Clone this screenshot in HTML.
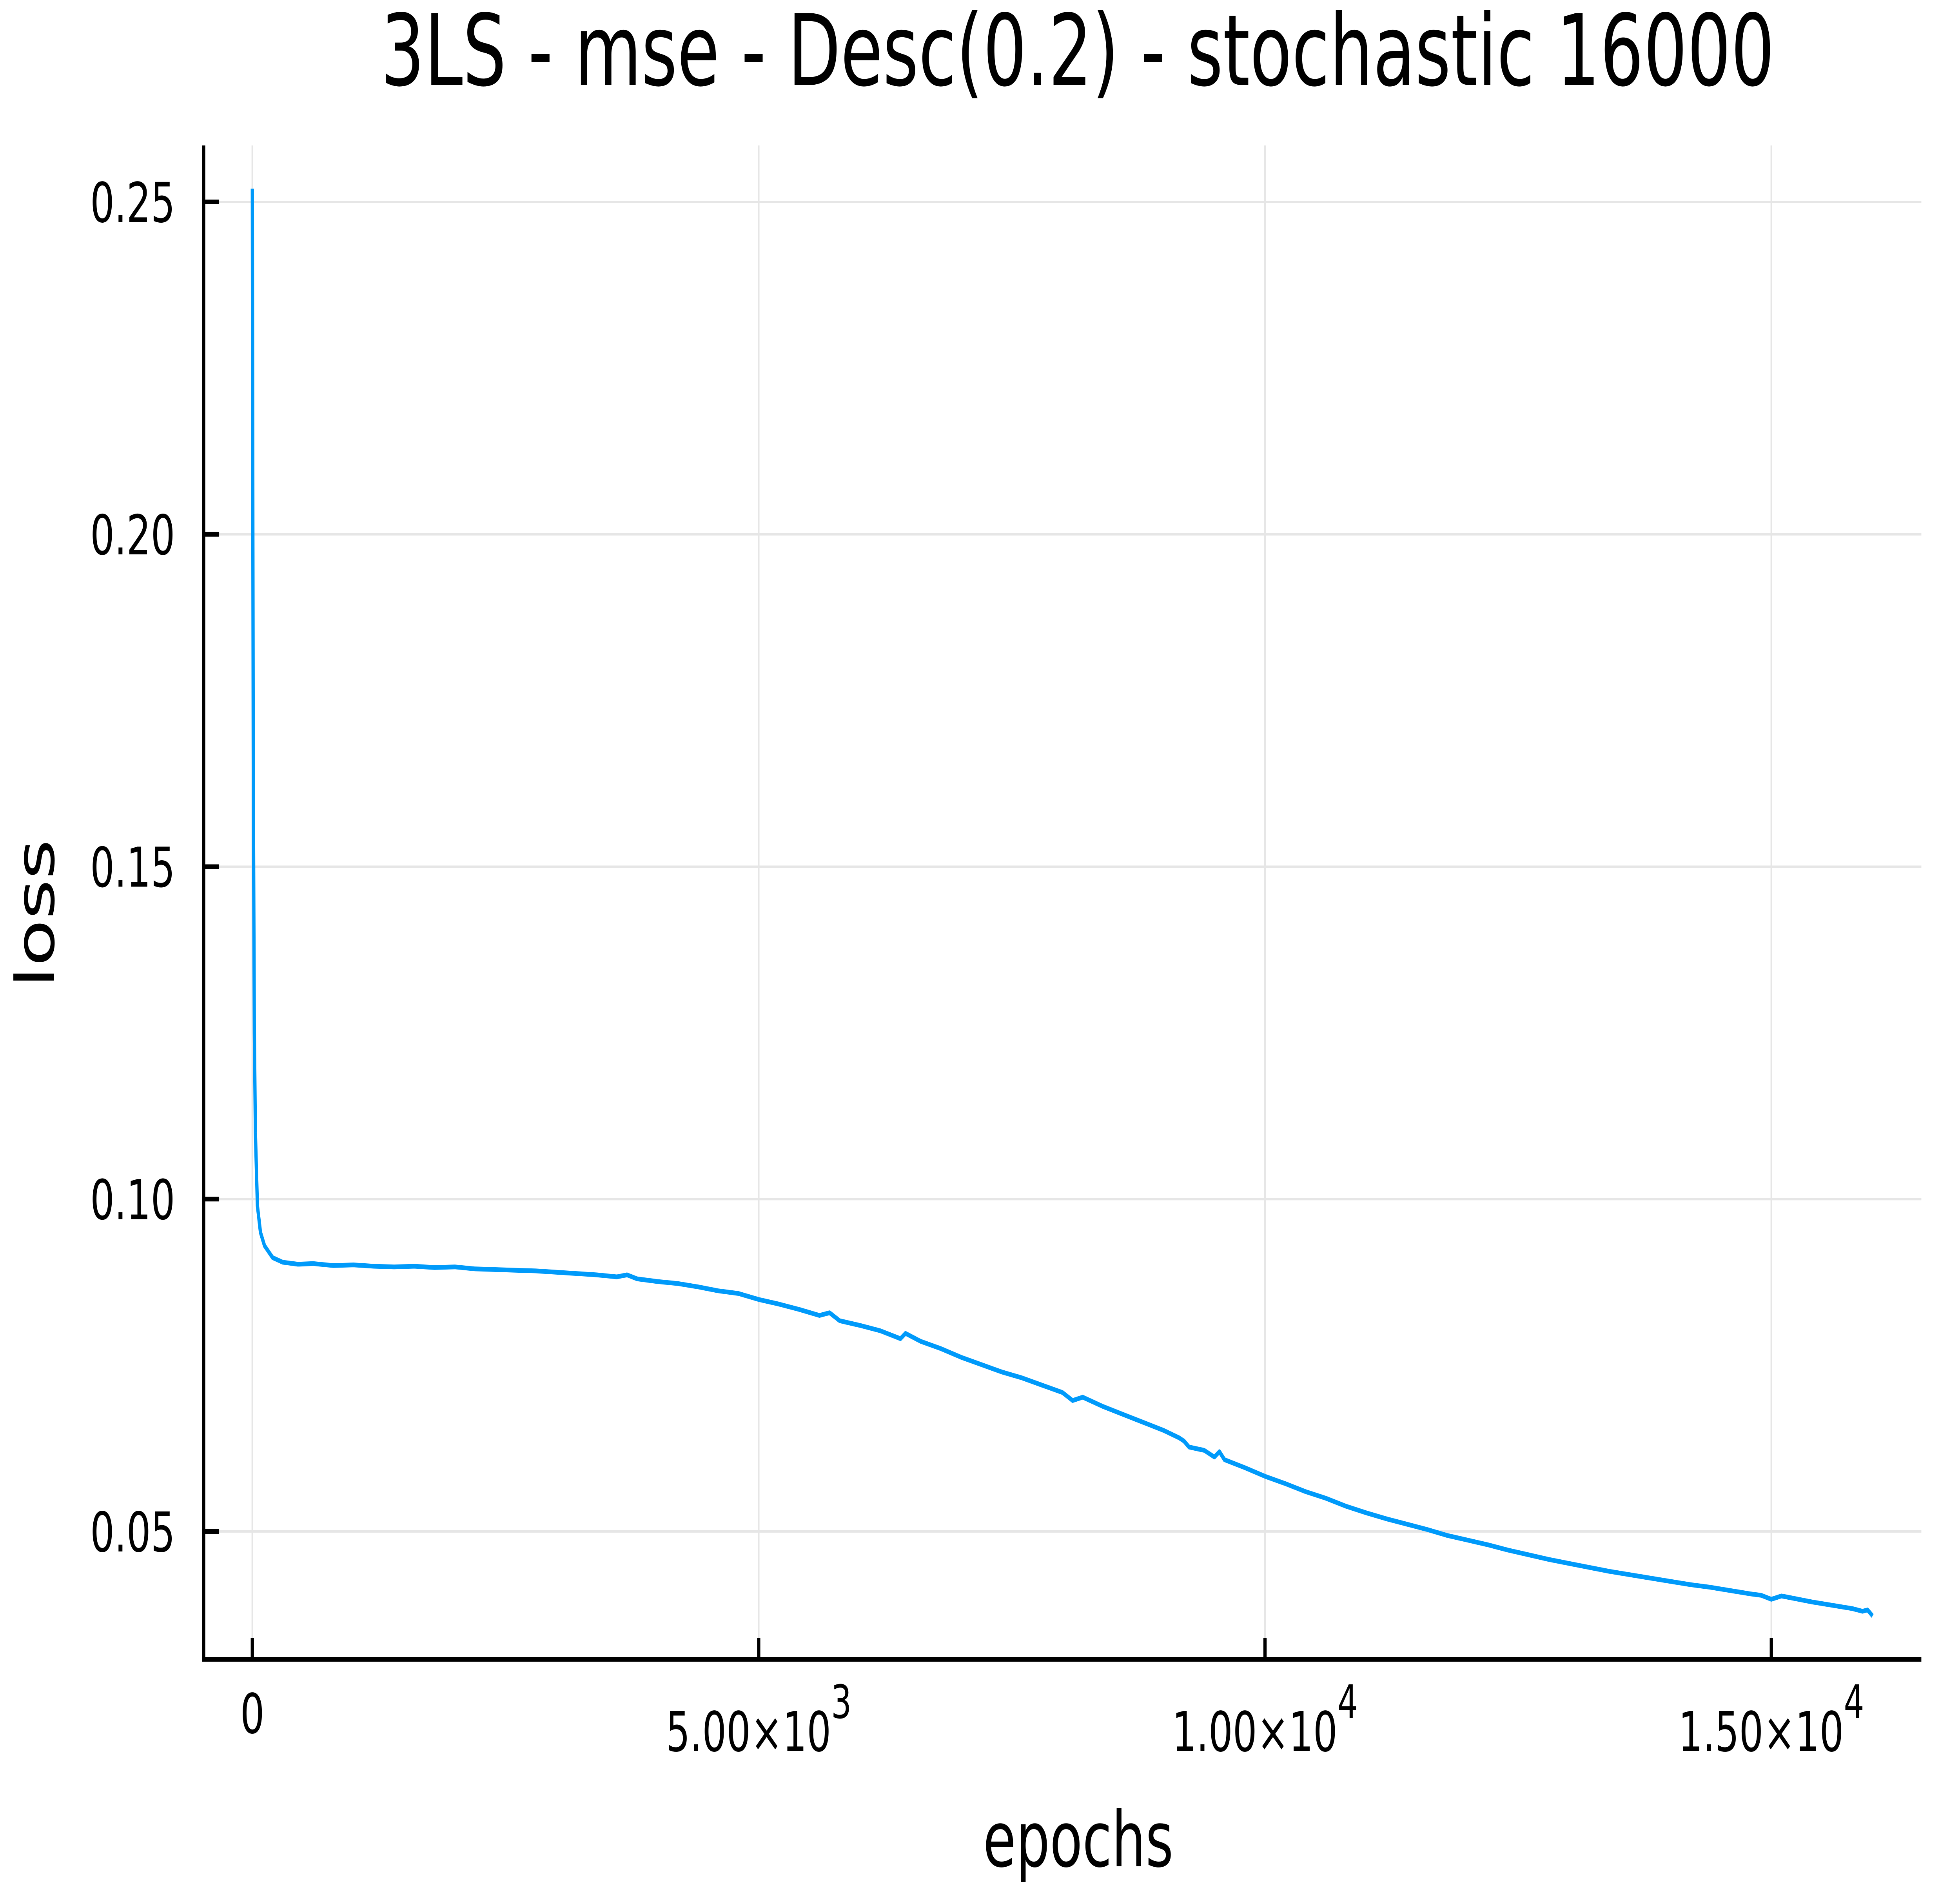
<!DOCTYPE html>
<html><head><meta charset="utf-8"><style>
html,body{margin:0;padding:0;background:#fff;overflow:hidden;}
svg{display:block;position:absolute;left:0;top:0;width:100vw;height:100vh;}
text{font-family:"DejaVu Sans","Liberation Sans",sans-serif;fill:#000;}
</style></head>
<body>
<svg id="chart" viewBox="0 0 7200 4800" preserveAspectRatio="none" xmlns="http://www.w3.org/2000/svg" overflow="hidden">
<rect x="0" y="0" width="7200" height="4800" fill="#fff"/>
<g id="grid"></g>
<g id="series"></g>
<g id="axes"></g>
<text x="3959" y="217" font-size="252" text-anchor="middle">3LS - mse - Desc(0.2) - stochastic 16000</text>
<text x="3961" y="4760" font-size="196" text-anchor="middle">epochs</text>
<text x="0" y="0" font-size="196" text-anchor="middle" transform="translate(198,2330) rotate(-90)">loss</text>
</svg>
<script>
const xTickValues = [0, 5000, 10000, 15000];
const xTickMantissa = ["0", "5.00×10", "1.00×10", "1.50×10"];
const xTickExponent = ["", "3", "4", "4"];
const yTickValues = [0.05, 0.10, 0.15, 0.20, 0.25];
const yTickLabels = ["0.05", "0.10", "0.15", "0.20", "0.25"];
const epochs = [0,5,10,20,30,50,80,120,200,300,450,600,800,1000,1200,1400,1600,1800,2000,2200,2400,2600,2800,3000,3200,3400,3600,3700,3800,4000,4200,4400,4600,4800,5000,5200,5400,5600,5700,5800,6000,6200,6400,6450,6600,6800,7000,7200,7400,7600,7800,8000,8100,8200,8400,8600,8800,9000,9150,9200,9250,9400,9500,9550,9600,9800,10000,10200,10400,10600,10800,11000,11200,11400,11600,11800,12000,12200,12400,12600,12800,13000,13200,13400,13600,13800,14000,14200,14400,14600,14800,14900,15000,15100,15200,15400,15600,15800,15900,15950,16000];
const loss = [0.252,0.200,0.160,0.125,0.110,0.099,0.095,0.093,0.0912,0.0905,0.0902,0.0903,0.0900,0.0901,0.0899,0.0898,0.0899,0.0897,0.0898,0.0895,0.0894,0.0893,0.0892,0.0890,0.0888,0.0886,0.0883,0.0886,0.0880,0.0876,0.0873,0.0868,0.0862,0.0858,0.0849,0.0842,0.0834,0.0825,0.0829,0.0817,0.0810,0.0802,0.0790,0.0798,0.0786,0.0775,0.0762,0.0751,0.0740,0.0731,0.0720,0.0709,0.0697,0.0702,0.0688,0.0676,0.0664,0.0652,0.0641,0.0636,0.0627,0.0622,0.0612,0.0620,0.0608,0.0596,0.0583,0.0572,0.0560,0.0550,0.0538,0.0528,0.0519,0.0511,0.0503,0.0494,0.0487,0.0480,0.0472,0.0465,0.0458,0.0452,0.0446,0.0440,0.0435,0.0430,0.0425,0.0420,0.0416,0.0411,0.0406,0.0404,0.0398,0.0403,0.0400,0.0394,0.0389,0.0384,0.0380,0.0382,0.0373];

const NS = "http://www.w3.org/2000/svg";
const L = 748, R = 7058, T = 371, B = 4232;
function xs(v){ return 927 + v * (6507 - 927) / 15000; }
function ys(v){ return 515 + (0.25 - v) * (3906 - 515) / 0.20; }
function mk(tag, attrs, parent){ const e = document.createElementNS(NS, tag); for (const k in attrs) e.setAttribute(k, attrs[k]); parent.appendChild(e); return e; }

const grid = document.getElementById('grid');
const axes = document.getElementById('axes');
xTickValues.forEach((v, i) => {
  const g = mk('line', {x1: xs(v), x2: xs(v), y1: T, y2: B, stroke: '#e6e6e6', 'stroke-width': 6}, grid);
  
  
  const t = mk('line', {x1: xs(v), x2: xs(v), y1: B, y2: B - 55, stroke: '#000', 'stroke-width': 12}, axes);
  
  
  const lbl = mk('text', {x: xs(v), y: xTickExponent[i] ? 4466 : 4420, 'font-size': 140, 'text-anchor': 'middle'}, axes);
  
  
  lbl.textContent = xTickMantissa[i];
  if (xTickExponent[i]) {
    const sup = document.createElementNS(NS, 'tspan');
    sup.setAttribute('font-size', 118);
    sup.setAttribute('dy', -84);
    sup.textContent = xTickExponent[i];
    lbl.appendChild(sup);
  }
});
yTickValues.forEach((v, i) => {
  const g = mk('line', {x1: L, x2: R, y1: ys(v), y2: ys(v), stroke: '#e6e6e6', 'stroke-width': 6}, grid);
  
  
  const t = mk('line', {x1: L, x2: L + 57, y1: ys(v), y2: ys(v), stroke: '#000', 'stroke-width': 12}, axes);
  
  
  const lbl = mk('text', {x: 643, y: ys(v) + 51, 'font-size': 140, 'text-anchor': 'end'}, axes);
  
  
  lbl.textContent = yTickLabels[i];
});
const ya = mk('line', {x1: L, x2: L, y1: T, y2: B + 6, stroke: '#000', 'stroke-width': 12}, axes);


const xa = mk('line', {x1: L - 6, x2: R, y1: B, y2: B, stroke: '#000', 'stroke-width': 12}, axes);



const d = epochs.map((e, i) => (i ? 'L' : 'M') + xs(e).toFixed(1) + ',' + ys(loss[i]).toFixed(1)).join(' ');
const path = mk('path', {d: d, fill: 'none', stroke: '#009AFA', 'stroke-width': 12, 'stroke-linejoin': 'round'}, document.getElementById('series'));


</script>
</body></html>
